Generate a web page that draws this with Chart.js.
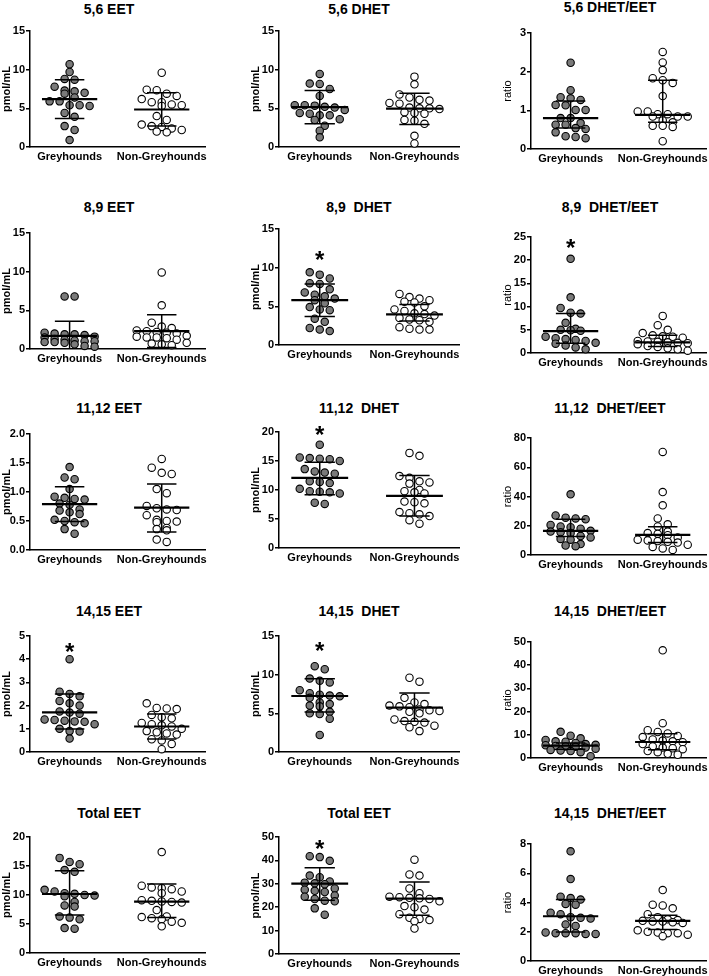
<!DOCTYPE html>
<html>
<head>
<meta charset="utf-8">
<script src="https://cdn.jsdelivr.net/npm/chart.js@4.4.1/dist/chart.umd.min.js"></script>
<style>
  html, body { margin: 0; padding: 0; background: #fff; overflow: hidden; }
  body { width: 709px; height: 976px; position: relative; font-family: "Liberation Sans", Arial, sans-serif; }
  canvas { position: absolute; }
  .ttl { position: absolute; transform: translateX(-50%); font-weight: bold; font-size: 14px; line-height: 16px; white-space: pre; color: #000; }
</style>
</head>
<body>
<script>
'use strict';

const categories = ['Greyhounds', 'Non-Greyhounds'];

const titles = [
  '5,6 EET', '5,6 DHET', '5,6 DHET/EET',
  '8,9 EET', '8,9  DHET', '8,9  DHET/EET',
  '11,12 EET', '11,12  DHET', '11,12  DHET/EET',
  '14,15 EET', '14,15  DHET', '14,15  DHET/EET',
  'Total EET', 'Total EET', '14,15  DHET/EET',
];
const yTitles = ['pmol/mL', 'pmol/mL', 'ratio'];
const yMaxes  = [15, 15, 3, 15, 15, 25, 2, 20, 80, 5, 15, 50, 20, 50, 8];
const ySteps  = [5, 5, 1, 5, 5, 5, 0.5, 5, 20, 1, 5, 10, 5, 10, 2];

// individual animals, one list per panel
const greyhoundValues = [
  [10.7, 9.7, 8.8, 8.7, 7.8, 7.3, 7.2, 7.0, 6.9, 6.4, 5.9, 5.9, 5.4, 5.4, 5.3, 4.4, 3.9, 2.7, 2.2, 0.9],
  [9.45, 8.2, 8.15, 7.5, 6.6, 5.4, 5.4, 5.35, 5.2, 5.1, 4.8, 4.4, 4.3, 4.1, 4.1, 3.6, 3.5, 2.75, 2.1, 1.25],
  [2.23, 1.52, 1.34, 1.31, 1.27, 1.14, 1.13, 1.01, 1.01, 0.8, 0.8, 0.67, 0.63, 0.63, 0.54, 0.52, 0.43, 0.33, 0.31, 0.28],
  [6.8, 6.8, 2.1, 2.0, 1.9, 1.9, 1.8, 1.6, 1.5, 1.3, 1.2, 1.1, 1.0, 1.0, 0.9, 0.9, 0.8, 0.6, 0.4, 0.3],
  [9.4, 9.1, 8.6, 8.0, 7.9, 7.2, 6.8, 6.5, 6.3, 6.0, 5.8, 5.4, 4.9, 4.6, 4.5, 3.4, 3.0, 2.2, 2.0, 1.8],
  [20.3, 12.0, 9.7, 8.7, 8.5, 6.5, 5.2, 5.0, 4.9, 4.8, 3.5, 3.2, 3.0, 2.8, 2.6, 2.2, 2.0, 1.6, 1.2, 0.8],
  [1.43, 1.25, 1.22, 1.05, 0.92, 0.9, 0.88, 0.87, 0.8, 0.78, 0.7, 0.68, 0.65, 0.62, 0.52, 0.5, 0.48, 0.46, 0.36, 0.28],
  [17.8, 15.6, 15.5, 15.4, 15.3, 15.0, 13.6, 13.2, 13.0, 12.8, 11.5, 11.4, 11.2, 10.2, 9.8, 9.7, 9.6, 9.4, 7.8, 7.6],
  [41.5, 27, 25.5, 25, 24.5, 20.5, 19.5, 19, 18, 16.5, 16, 15.5, 15, 13, 12, 11, 10.5, 7.5, 6.5, 6],
  [4.0, 2.6, 2.5, 2.4, 2.2, 2.1, 2.0, 1.75, 1.7, 1.65, 1.4, 1.38, 1.35, 1.32, 1.3, 1.2, 1.0, 0.9, 0.88, 0.58],
  [11.1, 10.7, 9.5, 9.2, 9.0, 8.0, 7.6, 7.4, 7.3, 7.2, 7.0, 6.4, 6.2, 6.0, 5.9, 5.2, 5.0, 4.9, 4.3, 2.2],
  [11.3, 9.6, 8.5, 7.8, 7.2, 7.0, 6.5, 6.0, 5.7, 5.5, 5.2, 5.0, 4.8, 4.5, 4.0, 3.5, 3.2, 3.0, 2.5, 0.8],
  [16.4, 15.7, 15.3, 14.3, 14.0, 10.9, 10.6, 10.3, 10.2, 10.0, 9.9, 9.8, 8.8, 8.2, 8.0, 6.3, 6.1, 5.8, 4.3, 4.2],
  [41.8, 41.4, 39.8, 33.5, 32.8, 31.0, 30.5, 30.2, 29.8, 28.0, 27.5, 27.0, 26.5, 25.0, 24.5, 23.5, 22.8, 22.5, 19.5, 16.8],
  [7.5, 5.6, 4.4, 4.3, 4.2, 3.9, 3.85, 3.3, 3.2, 3.0, 2.95, 2.9, 2.5, 2.4, 1.95, 1.9, 1.9, 1.9, 1.85, 1.85],
];
const nonGreyhoundValues = [
  [9.6, 7.4, 7.35, 6.9, 6.6, 6.2, 5.8, 5.8, 5.5, 5.4, 5.3, 4.0, 3.5, 2.9, 2.7, 2.6, 2.4, 2.2, 2.0, 1.9],
  [9.1, 8.1, 6.8, 6.4, 6.1, 6.0, 5.7, 5.6, 5.1, 5.0, 5.0, 4.9, 4.5, 4.4, 4.3, 3.5, 3.4, 3.0, 1.45, 0.45],
  [2.51, 2.24, 2.04, 1.83, 1.78, 1.71, 1.37, 0.97, 0.97, 0.9, 0.9, 0.84, 0.84, 0.84, 0.74, 0.69, 0.6, 0.6, 0.57, 0.2],
  [9.9, 5.65, 3.4, 2.9, 2.7, 2.4, 2.3, 2.2, 2.1, 2.0, 1.7, 1.6, 1.5, 1.5, 1.4, 1.2, 0.8, 0.7, 0.6, 0.5],
  [6.6, 6.2, 6.0, 5.8, 5.6, 5.5, 5.0, 4.6, 4.4, 4.1, 4.0, 3.8, 3.5, 3.3, 3.2, 3.0, 2.3, 2.1, 2.0, 2.0],
  [8.0, 6.0, 5.0, 4.3, 3.8, 3.6, 3.5, 3.3, 2.6, 2.5, 2.4, 2.3, 2.2, 2.1, 1.9, 1.5, 1.3, 1.0, 0.8, 0.5],
  [1.57, 1.42, 1.33, 1.31, 1.05, 0.98, 0.76, 0.72, 0.7, 0.69, 0.6, 0.52, 0.5, 0.49, 0.48, 0.38, 0.36, 0.34, 0.18, 0.14],
  [16.4, 15.9, 12.4, 12.1, 11.5, 11.3, 11.1, 10.0, 9.8, 9.6, 9.4, 8.0, 7.9, 7.7, 6.2, 6.0, 5.8, 5.5, 4.8, 4.2],
  [70.5, 43, 34, 25, 21, 19.5, 16, 15, 14.5, 13.5, 12, 10.5, 10, 9.5, 9, 8.5, 7, 5.5, 4.5, 3.5],
  [2.1, 1.9, 1.88, 1.85, 1.6, 1.5, 1.45, 1.25, 1.2, 1.15, 1.1, 1.0, 0.9, 0.85, 0.8, 0.75, 0.55, 0.5, 0.35, 0.12],
  [9.6, 9.1, 7.0, 6.4, 6.2, 6.0, 5.9, 5.8, 5.5, 5.4, 5.3, 5.2, 5.0, 4.2, 4.0, 3.9, 3.8, 3.4, 3.2, 2.7],
  [46.4, 15, 12, 11.2, 10.6, 9.5, 9.0, 8.0, 7.5, 7.2, 6.8, 6.0, 5.0, 4.5, 4.2, 3.8, 3.0, 2.5, 1.8, 1.4],
  [17.4, 11.6, 11.3, 11.2, 11.0, 10.6, 10.3, 9.1, 9.0, 8.9, 8.8, 8.7, 7.4, 6.3, 6.2, 6.0, 5.8, 5.4, 5.2, 4.6],
  [40.3, 34.0, 33.5, 28.0, 26.0, 24.5, 24.3, 24.0, 23.8, 23.5, 22.5, 20.5, 20.0, 19.0, 17.0, 15.5, 15.0, 14.5, 14.0, 10.9],
  [4.85, 3.85, 3.8, 3.6, 3.2, 3.0, 2.85, 2.8, 2.75, 2.7, 2.7, 2.65, 2.6, 2.1, 2.0, 1.95, 1.9, 1.9, 1.8, 1.7],
];

// [centre, lower bar, upper bar] as drawn on the figure
const greyhoundBars = [
  [6.2, 3.7, 8.7], [5.15, 3.0, 7.3], [0.8, 0.54, 1.24],
  [1.7, -0.2, 3.6], [5.8, 3.7, 7.9], [4.7, 2.1, 8.5],
  [0.79, 0.49, 1.09], [12.1, 9.2, 14.8], [16.5, 12.6, 24.5],
  [1.71, 0.99, 2.5], [7.24, 5.17, 9.48], [5.3, 3.8, 6.5],
  [10.17, 6.57, 14.17], [30.1, 23.0, 36.9], [3.06, 1.99, 4.2],
];
const nonGreyhoundBars = [
  [4.85, 2.7, 7.0], [4.95, 2.9, 6.95], [0.88, 0.69, 1.78],
  [2.3, 0.2, 4.44], [3.95, 3.1, 5.25], [2.3, 1.4, 3.8],
  [0.73, 0.31, 1.14], [8.97, 5.5, 12.5], [13.7, 8.5, 19.4],
  [1.1, 0.56, 1.64], [5.73, 3.97, 7.63], [6.9, 3.6, 10.4],
  [8.86, 6.1, 11.9], [23.7, 16.6, 30.8], [2.74, 2.15, 3.13],
];

// significance marks: panel index -> height of the asterisk
const starValues = { 4: 11.7, 5: 23.9, 7: 20.4, 9: 4.57, 10: 13.8, 13: 47.2 };

// page layout (pixels)
const colAxisX = [30, 279, 531];
const colRight = [205, 459, 706];
const titleX   = [109, 359, 610];
const plotTop    = [[31, 31, 33], [233, 229, 237], [434, 432, 438], [636, 636, 642], [837, 837, 844]];
const plotBottom = [[147, 147, 149], [349, 345, 353], [550, 548, 555], [752, 752, 758], [953, 954, 961]];
const titleY     = [[9, 9, 7], [207, 207, 207], [408, 408, 408], [611, 611, 611], [813, 813, 813]];

const FONT = '"Liberation Sans", Arial, sans-serif';
const AXIS_W = 30, PAD_TOP = 10, XAXIS_H = 18;
const GAP_X = 10, ROW_H = 6.5, ROW_MAX = 6;   // dot spacing inside a row, row height, dots per row

function barsPlugin(idx) {
  return {
    id: 'bars' + idx,
    afterDatasetsDraw(chart) {
      const { ctx, chartArea: a, scales: { x, y } } = chart;
      ctx.save();
      ctx.beginPath();
      ctx.rect(a.left, a.top - 1, a.width, a.height + 1);
      ctx.clip();
      ctx.strokeStyle = '#000';
      [greyhoundBars[idx], nonGreyhoundBars[idx]].forEach(([mid, lo, hi], cat) => {
        const cx = x.getPixelForValue(cat);
        const wMed = x.getPixelForValue(cat + 0.3) - cx;
        const wCap = x.getPixelForValue(cat + 0.16) - cx;
        const yMid = y.getPixelForValue(mid), yLo = y.getPixelForValue(lo), yHi = y.getPixelForValue(hi);
        ctx.lineWidth = 1.5;
        ctx.beginPath();
        ctx.moveTo(cx, yLo); ctx.lineTo(cx, yHi);
        ctx.moveTo(cx - wCap, yLo); ctx.lineTo(cx + wCap, yLo);
        ctx.moveTo(cx - wCap, yHi); ctx.lineTo(cx + wCap, yHi);
        ctx.stroke();
        ctx.lineWidth = 2.2;
        ctx.beginPath();
        ctx.moveTo(cx - wMed, yMid); ctx.lineTo(cx + wMed, yMid);
        ctx.stroke();
      });
      ctx.restore();
      if (starValues[idx] !== undefined) {
        ctx.save();
        ctx.fillStyle = '#000';
        ctx.font = 'bold 24px ' + FONT;
        ctx.textAlign = 'center';
        ctx.textBaseline = 'alphabetic';
        ctx.fillText('*', x.getPixelForValue(0), y.getPixelForValue(starValues[idx]) + 0.57 * 24);
        ctx.restore();
      }
    },
  };
}

// Prism-style scatter: dots of similar height share a row, centred on the column
function rowOffsets(values, yScale) {
  const pts = values.map((v, i) => ({ i, y: yScale.getPixelForValue(v) }));
  pts.sort((a, b) => a.y - b.y);
  const offs = new Array(values.length).fill(0);
  let row = [];
  const flush = () => {
    row.forEach((p, j) => { offs[p.i] = (j - (row.length - 1) / 2) * GAP_X; });
    row = [];
  };
  pts.forEach(p => {
    if (row.length && (p.y - row[0].y > ROW_H || row.length >= ROW_MAX)) flush();
    row.push(p);
  });
  flush();
  return offs;
}

function makePanel(idx) {
  const r = Math.floor(idx / 3), c = idx % 3;
  const left = colAxisX[c] - AXIS_W;
  const top = plotTop[r][c] - PAD_TOP;
  const w = colRight[c] - left + 2;
  const h = plotBottom[r][c] - top + XAXIS_H;

  const title = document.createElement('div');
  title.className = 'ttl';
  title.textContent = titles[idx];
  title.style.left = titleX[c] + 'px';
  title.style.top = (titleY[r][c] - 8) + 'px';
  document.body.appendChild(title);

  const cv = document.createElement('canvas');
  cv.width = w; cv.height = h;
  cv.style.left = left + 'px'; cv.style.top = top + 'px';
  cv.style.width = w + 'px'; cv.style.height = h + 'px';
  document.body.appendChild(cv);

  const tickFont = { family: FONT, size: 11, weight: 'bold' };
  const chart = new Chart(cv, {
    type: 'scatter',
    data: {
      datasets: [
        { data: greyhoundValues[idx].map(v => ({ x: 0, y: v })), backgroundColor: '#7a7a7a' },
        { data: nonGreyhoundValues[idx].map(v => ({ x: 1, y: v })), backgroundColor: '#ffffff' },
      ],
    },
    options: {
      responsive: false,
      animation: false,
      devicePixelRatio: 1,
      clip: false,
      layout: { autoPadding: false, padding: { left: 0, right: 2, top: PAD_TOP, bottom: 0 } },
      elements: { point: { radius: 3.7, borderWidth: 1.1, borderColor: '#000' } },
      plugins: { legend: { display: false }, tooltip: { enabled: false }, title: { display: false } },
      scales: {
        x: {
          type: 'linear', min: -0.43, max: 1.47,
          afterBuildTicks: s => { s.ticks = [{ value: 0 }, { value: 1 }]; },
          afterFit: s => { s.height = XAXIS_H; s.paddingLeft = 0; s.paddingRight = 0; },
          ticks: { callback: v => categories[v], font: tickFont, color: '#000', padding: 3, maxRotation: 0, autoSkip: false },
          grid: { display: false, drawTicks: false },
          border: { color: '#000', width: 1.5 },
        },
        y: {
          min: 0, max: yMaxes[idx],
          afterFit: s => { s.width = AXIS_W; },
          ticks: {
            stepSize: ySteps[idx], font: tickFont, color: '#000', padding: 1,
            callback: v => ySteps[idx] < 1 ? v.toFixed(1) : String(v),
          },
          grid: { drawOnChartArea: false, drawTicks: true, tickLength: 4, color: '#000', lineWidth: 1.5 },
          border: { color: '#000', width: 1.5 },
          title: {
            display: true, text: yTitles[c], color: '#000', padding: 0,
            font: { family: FONT, size: 11, weight: c === 2 ? 'normal' : 'bold' },
          },
        },
      },
    },
    plugins: [barsPlugin(idx)],
  });

  const { x, y } = chart.scales;
  const pxPerUnit = x.getPixelForValue(1) - x.getPixelForValue(0);
  [greyhoundValues[idx], nonGreyhoundValues[idx]].forEach((vals, cat) => {
    const offs = rowOffsets(vals, y);
    chart.data.datasets[cat].data = vals.map((v, i) => ({ x: cat + offs[i] / pxPerUnit, y: v }));
  });
  chart.update('none');
}

for (let i = 0; i < titles.length; i++) makePanel(i);
</script>
</body>
</html>
